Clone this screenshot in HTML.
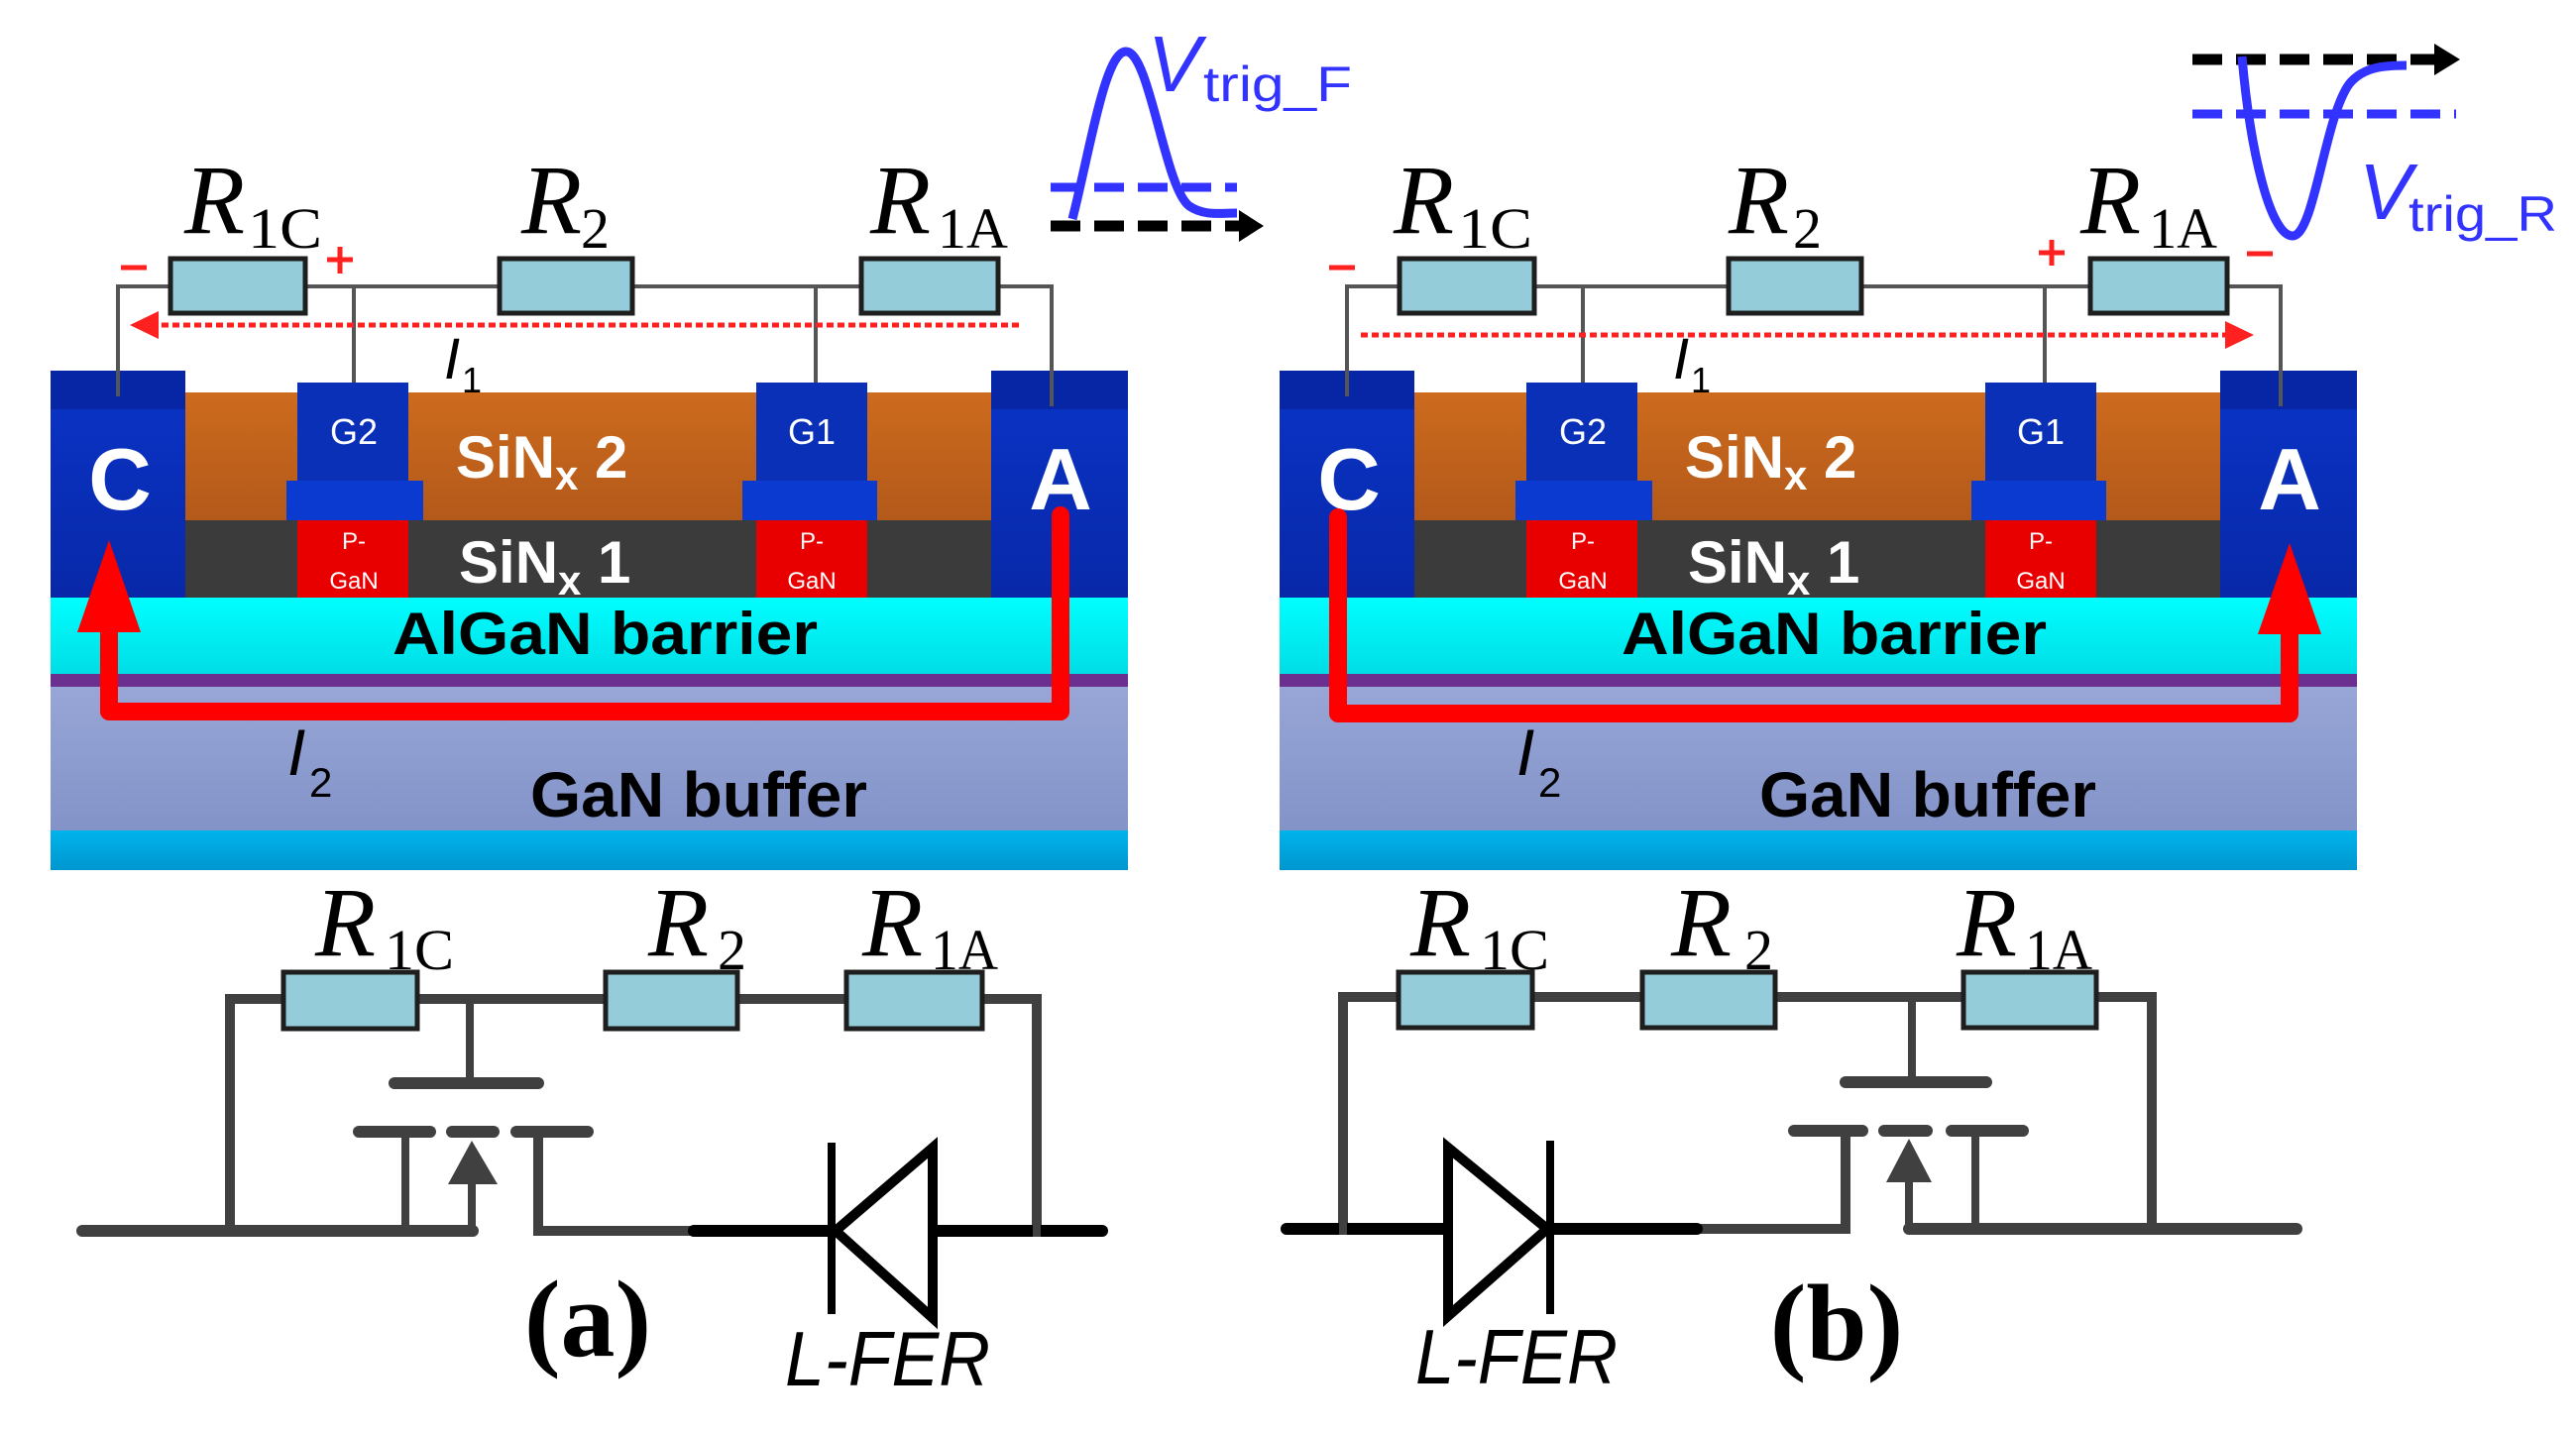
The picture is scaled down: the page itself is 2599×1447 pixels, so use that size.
<!DOCTYPE html>
<html><head><meta charset="utf-8"><style>html,body{margin:0;padding:0;background:#fff}svg{display:block}</style></head>
<body>
<svg width="2599" height="1447" viewBox="0 0 2599 1447" xmlns="http://www.w3.org/2000/svg">
<defs>
<linearGradient id="og" x1="0" y1="0" x2="0" y2="1"><stop offset="0" stop-color="#cd6b1e"/><stop offset="1" stop-color="#b3591a"/></linearGradient>
<linearGradient id="cg" x1="0" y1="0" x2="0" y2="1"><stop offset="0" stop-color="#00ffff"/><stop offset="1" stop-color="#00dde6"/></linearGradient>
<linearGradient id="bg" x1="0" y1="0" x2="0" y2="1"><stop offset="0" stop-color="#97a6d6"/><stop offset="1" stop-color="#8393c8"/></linearGradient>
<linearGradient id="sg" x1="0" y1="0" x2="0" y2="1"><stop offset="0" stop-color="#00b4ec"/><stop offset="1" stop-color="#0096cf"/></linearGradient>
<linearGradient id="eg" x1="0" y1="0" x2="0" y2="1"><stop offset="0" stop-color="#0a34c8"/><stop offset="1" stop-color="#0828a8"/></linearGradient>
<g id="dev">
<rect x="187" y="396" width="813" height="129" fill="url(#og)"/>
<rect x="187" y="525" width="813" height="78" fill="#3b3b3b"/>
<rect x="51" y="374" width="136" height="229" fill="url(#eg)"/>
<rect x="51" y="374" width="136" height="39" fill="#0626a6"/>
<rect x="1000" y="374" width="138" height="229" fill="url(#eg)"/>
<rect x="1000" y="374" width="138" height="39" fill="#0626a6"/>
<rect x="300" y="386" width="112" height="99" fill="#0a30b8"/>
<rect x="289" y="485" width="138" height="40" fill="#0a3ad0"/>
<rect x="300" y="525" width="112" height="78" fill="#e80000"/>
<rect x="763" y="386" width="112" height="99" fill="#0a30b8"/>
<rect x="749" y="485" width="136" height="40" fill="#0a3ad0"/>
<rect x="763" y="525" width="112" height="78" fill="#e80000"/>
<rect x="51" y="603" width="1087" height="77" fill="url(#cg)"/>
<rect x="51" y="680" width="1087" height="13" fill="#6b2f8f"/>
<rect x="51" y="693" width="1087" height="145" fill="url(#bg)"/>
<rect x="51" y="838" width="1087" height="40" fill="url(#sg)"/>
<g stroke="#555" stroke-width="4" fill="none">
<polyline points="119,400 119,289 1061,289 1061,410"/>
<line x1="357" y1="289" x2="357" y2="386"/>
<line x1="823" y1="289" x2="823" y2="386"/>
</g>
<g fill="#94ccd9" stroke="#1e1e1e" stroke-width="5">
<rect x="172" y="261" width="136" height="55"/>
<rect x="504" y="261" width="134" height="55"/>
<rect x="869" y="261" width="138" height="55"/>
</g>
</g>
</defs>

<use href="#dev"/>
<use href="#dev" transform="translate(1240,0)"/>

<g font-family="Liberation Sans, sans-serif" fill="#fff" text-anchor="middle">
<text x="357" y="448" font-size="36">G2</text>
<text x="819" y="448" font-size="36">G1</text>
<text x="1597" y="448" font-size="36">G2</text>
<text x="2059" y="448" font-size="36">G1</text>
<g font-size="24"><text x="357" y="554">P-</text><text x="357" y="594">GaN</text>
<text x="819" y="554">P-</text><text x="819" y="594">GaN</text>
<text x="1597" y="554">P-</text><text x="1597" y="594">GaN</text>
<text x="2059" y="554">P-</text><text x="2059" y="594">GaN</text></g>
<g font-weight="bold" font-size="88"><text x="121" y="514">C</text><text x="1070" y="514">A</text>
<text x="1361" y="514">C</text><text x="2310" y="514">A</text></g>
</g>
<g font-family="Liberation Sans, sans-serif" fill="#fff" font-weight="bold" font-size="60">
<text x="460" y="482">SiN<tspan font-size="42" dy="12">x</tspan><tspan dy="-12"> 2</tspan></text>
<text x="463" y="588">SiN<tspan font-size="42" dy="12">x</tspan><tspan dy="-12"> 1</tspan></text>
<text x="1700" y="482">SiN<tspan font-size="42" dy="12">x</tspan><tspan dy="-12"> 2</tspan></text>
<text x="1703" y="588">SiN<tspan font-size="42" dy="12">x</tspan><tspan dy="-12"> 1</tspan></text>
</g>
<g font-family="Liberation Sans, sans-serif" fill="#000" font-weight="bold">
<text x="396" y="660" font-size="60" textLength="429" lengthAdjust="spacingAndGlyphs">AlGaN barrier</text>
<text x="535" y="824" font-size="64" textLength="340" lengthAdjust="spacingAndGlyphs">GaN buffer</text>
<text x="1636" y="660" font-size="60" textLength="429" lengthAdjust="spacingAndGlyphs">AlGaN barrier</text>
<text x="1775" y="824" font-size="64" textLength="340" lengthAdjust="spacingAndGlyphs">GaN buffer</text>
</g>

<g font-family="Liberation Sans, sans-serif" fill="#000">
<text x="448" y="382" font-size="58" font-style="italic">I</text><text x="466" y="396" font-size="36">1</text>
<text x="1688" y="382" font-size="58" font-style="italic">I</text><text x="1706" y="396" font-size="36">1</text>
<text x="290" y="782" font-size="66" font-style="italic">I</text><text x="312" y="804" font-size="42">2</text>
<text x="1530" y="782" font-size="66" font-style="italic">I</text><text x="1552" y="804" font-size="42">2</text>
</g>

<line x1="1028" y1="328" x2="155" y2="328" stroke="#ff2020" stroke-width="5" stroke-dasharray="7 4"/>
<polygon points="131,328 160,314 160,342" fill="#ff2020"/>
<line x1="1373" y1="338" x2="2250" y2="338" stroke="#ff2020" stroke-width="5" stroke-dasharray="7 4"/>
<polygon points="2274,338 2245,324 2245,352" fill="#ff2020"/>

<path d="M1070,520 V718 H110 V630" fill="none" stroke="#ff0000" stroke-width="18" stroke-linejoin="round" stroke-linecap="round"/>
<polygon points="78,638 142,638 110,545" fill="#ff0000"/>
<path d="M1350,522 V720 H2310 V632" fill="none" stroke="#ff0000" stroke-width="18" stroke-linejoin="round" stroke-linecap="round"/>
<polygon points="2278,640 2342,640 2310,548" fill="#ff0000"/>

<g stroke="#ff2020" stroke-width="5">
<line x1="122" y1="270" x2="148" y2="270"/>
<line x1="330" y1="262" x2="356" y2="262"/><line x1="343" y1="249" x2="343" y2="276"/>
<line x1="1341" y1="270" x2="1367" y2="270"/>
<line x1="2057" y1="255" x2="2083" y2="255"/><line x1="2070" y1="242" x2="2070" y2="268"/>
<line x1="2267" y1="256" x2="2293" y2="256"/>
</g>

<g font-family="Liberation Serif, serif" fill="#000">
<g font-size="100" font-style="italic">
<text x="186" y="235">R</text><text x="526" y="235">R</text><text x="878" y="235">R</text>
<text x="1406" y="235">R</text><text x="1744" y="235">R</text><text x="2099" y="235">R</text>
</g>
<g font-size="58">
<text x="250" y="250" textLength="75" lengthAdjust="spacingAndGlyphs">1C</text>
<text x="586" y="250">2</text>
<text x="946" y="250" textLength="71" lengthAdjust="spacingAndGlyphs">1A</text>
<text x="1471" y="250" textLength="75" lengthAdjust="spacingAndGlyphs">1C</text>
<text x="1809" y="250">2</text>
<text x="2168" y="250" textLength="69" lengthAdjust="spacingAndGlyphs">1A</text>
</g>
</g>

<line x1="1060" y1="189" x2="1248" y2="189" stroke="#3333ff" stroke-width="9" stroke-dasharray="30 14"/>
<line x1="1060" y1="228" x2="1255" y2="228" stroke="#000" stroke-width="11" stroke-dasharray="30 14"/>
<polygon points="1250,212 1275,228 1250,244" fill="#000"/>
<path d="M1082,221 C1100,150 1115,52 1136,52 C1160,52 1175,190 1200,208 C1215,218 1230,215 1248,215" fill="none" stroke="#3333ff" stroke-width="9"/>
<text x="1158" y="92" font-family="Liberation Sans, sans-serif" font-style="italic" font-size="80" fill="#3333ff">V</text>
<text x="1214" y="102" font-family="Liberation Sans, sans-serif" font-size="50" fill="#3333ff" textLength="150" lengthAdjust="spacingAndGlyphs">trig_F</text>

<line x1="2212" y1="60" x2="2462" y2="60" stroke="#000" stroke-width="11" stroke-dasharray="30 14"/>
<polygon points="2456,44 2482,60 2456,76" fill="#000"/>
<line x1="2212" y1="115" x2="2478" y2="115" stroke="#3333ff" stroke-width="9" stroke-dasharray="30 14"/>
<path d="M2262,57 C2270,150 2290,238 2313,238 C2335,238 2345,120 2370,85 C2385,66 2410,66 2428,66" fill="none" stroke="#3333ff" stroke-width="9"/>
<text x="2380" y="221" font-family="Liberation Sans, sans-serif" font-style="italic" font-size="80" fill="#3333ff">V</text>
<text x="2430" y="233" font-family="Liberation Sans, sans-serif" font-size="50" fill="#3333ff" textLength="150" lengthAdjust="spacingAndGlyphs">trig_R</text>

<g stroke="#404040" fill="none" stroke-linecap="round">
<polyline points="232,1242 232,1008 1046,1008 1046,1242" stroke-width="10" stroke-linecap="butt"/>
<line x1="83" y1="1242" x2="477" y2="1242" stroke-width="12"/>
<polyline points="543,1145 543,1242 700,1242" stroke-width="10" stroke-linecap="butt"/>
<line x1="474" y1="1008" x2="474" y2="1093" stroke-width="8"/>
<line x1="398" y1="1093" x2="543" y2="1093" stroke-width="12"/>
<line x1="362" y1="1142" x2="434" y2="1142" stroke-width="12"/>
<line x1="456" y1="1142" x2="498" y2="1142" stroke-width="12"/>
<line x1="521" y1="1142" x2="593" y2="1142" stroke-width="12"/>
<line x1="409" y1="1142" x2="409" y2="1242" stroke-width="8"/>
<line x1="476" y1="1190" x2="476" y2="1242" stroke-width="8"/>
</g>
<polygon points="452,1195 502,1195 476,1151" fill="#404040"/>
<line x1="700" y1="1242" x2="1112" y2="1242" stroke="#000" stroke-width="12" stroke-linecap="round"/>
<line x1="1046" y1="1236" x2="1046" y2="1248" stroke="#404040" stroke-width="8"/>
<line x1="839" y1="1153" x2="839" y2="1326" stroke="#000" stroke-width="8"/>
<polygon points="941,1158 843,1242 941,1330" fill="#fff" stroke="#000" stroke-width="10"/>
<g fill="#94ccd9" stroke="#1e1e1e" stroke-width="5">
<rect x="286" y="981" width="135" height="57"/>
<rect x="611" y="981" width="133" height="57"/>
<rect x="854" y="981" width="137" height="57"/>
</g>

<g stroke="#404040" fill="none" stroke-linecap="round">
<polyline points="1355,1240 1355,1006 2171,1006 2171,1240" stroke-width="10" stroke-linecap="butt"/>
<polyline points="1712,1240 1862,1240 1862,1145" stroke-width="10" stroke-linecap="butt"/>
<line x1="1926" y1="1240" x2="2317" y2="1240" stroke-width="12"/>
<line x1="1929" y1="1006" x2="1929" y2="1092" stroke-width="8"/>
<line x1="1862" y1="1092" x2="2004" y2="1092" stroke-width="12"/>
<line x1="1810" y1="1141" x2="1879" y2="1141" stroke-width="12"/>
<line x1="1901" y1="1141" x2="1944" y2="1141" stroke-width="12"/>
<line x1="1969" y1="1141" x2="2041" y2="1141" stroke-width="12"/>
<line x1="1926" y1="1188" x2="1926" y2="1240" stroke-width="8"/>
<line x1="1993" y1="1141" x2="1993" y2="1240" stroke-width="8"/>
</g>
<polygon points="1903,1193 1949,1193 1926,1149" fill="#404040"/>
<line x1="1298" y1="1240" x2="1712" y2="1240" stroke="#000" stroke-width="12" stroke-linecap="round"/>
<line x1="1355" y1="1234" x2="1355" y2="1246" stroke="#404040" stroke-width="8"/>
<line x1="1564" y1="1151" x2="1564" y2="1326" stroke="#000" stroke-width="8"/>
<polygon points="1461,1158 1561,1240 1461,1328" fill="#fff" stroke="#000" stroke-width="10"/>
<g fill="#94ccd9" stroke="#1e1e1e" stroke-width="5">
<rect x="1411" y="981" width="135" height="56"/>
<rect x="1657" y="981" width="134" height="56"/>
<rect x="1981" y="981" width="134" height="56"/>
</g>

<g font-family="Liberation Serif, serif" fill="#000">
<g font-size="100" font-style="italic">
<text x="318" y="964">R</text><text x="654" y="964">R</text><text x="870" y="964">R</text>
<text x="1423" y="964">R</text><text x="1686" y="964">R</text><text x="1974" y="964">R</text>
</g>
<g font-size="58">
<text x="388" y="978" textLength="70" lengthAdjust="spacingAndGlyphs">1C</text>
<text x="724" y="978">2</text>
<text x="939" y="978" textLength="68" lengthAdjust="spacingAndGlyphs">1A</text>
<text x="1493" y="978" textLength="70" lengthAdjust="spacingAndGlyphs">1C</text>
<text x="1760" y="978">2</text>
<text x="2043" y="978" textLength="68" lengthAdjust="spacingAndGlyphs">1A</text>
</g>
<g font-size="110" font-weight="bold" text-anchor="middle">
<text x="593" y="1368">(a)</text>
<text x="1853" y="1372">(b)</text>
</g>
</g>
<g font-family="Liberation Sans, sans-serif" font-style="italic" font-size="78" fill="#000">
<text x="792" y="1398" textLength="207" lengthAdjust="spacingAndGlyphs">L-FER</text>
<text x="1428" y="1396" textLength="204" lengthAdjust="spacingAndGlyphs">L-FER</text>
</g>
</svg>
</body></html>
